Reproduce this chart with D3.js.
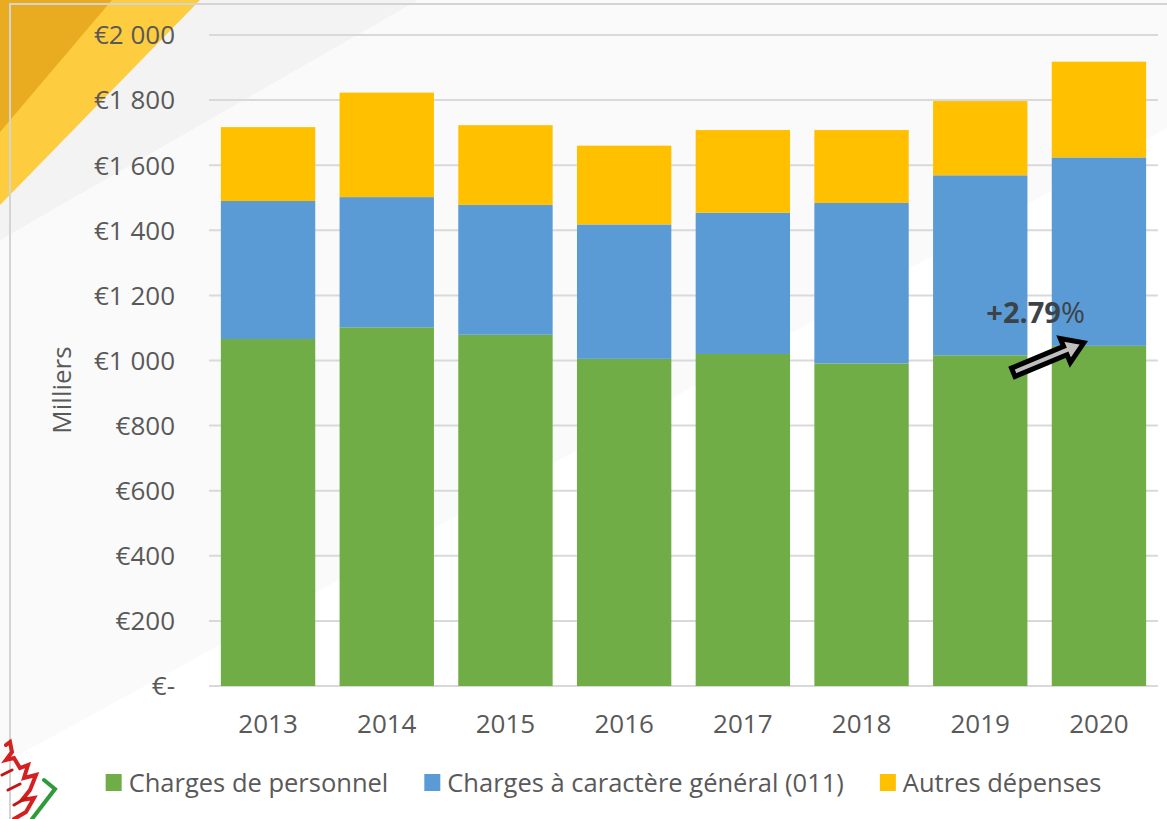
<!DOCTYPE html>
<html>
<head>
<meta charset="utf-8">
<script src="https://d3js.org/d3.v7.min.js"></script>
<style>
  body { margin: 0; background: #fff; }
  text { font-family: "Open Sans", sans-serif; }
</style>
</head>
<body>
<script>
// data (milliers d'euros)
var years = ["2013", "2014", "2015", "2016", "2017", "2018", "2019", "2020"];
var personnel = [1066, 1102, 1079, 1005, 1020, 991, 1016, 1045];
var general011 = [424, 400, 399, 413, 434, 493, 553, 579];
var autres = [227, 321, 245, 242, 254, 224, 228, 294];
var seriesNames = ["Charges de personnel", "Charges à caractère général (011)", "Autres dépenses"];
var colors = ["#70ad47", "#5b9bd5", "#ffc000"];
var yTicks = [0, 200, 400, 600, 800, 1000, 1200, 1400, 1600, 1800, 2000];

(function() {
  var W = 1167, H = 819;
  var svg = d3.select("body").append("svg").attr("width", W).attr("height", H);

  // slide background
  svg.append("rect").attr("width", W).attr("height", H).attr("fill", "#fafafa");
  svg.append("path").attr("d", "M1167,128 L1167,819 L0,819 L0,765 Z").attr("fill", "#ffffff");
  svg.append("path").attr("d", "M0,0 L418,0 L0,240 Z").attr("fill", "#f3f3f3");
  svg.append("path").attr("d", "M0,0 L200,0 L0,205 Z").attr("fill", "#fdcc3f");
  svg.append("path").attr("d", "M0,0 L112,0 L0,132 Z").attr("fill", "#e9ac20");

  // chart frame
  svg.append("path").attr("d", "M10,819 L10,4 L1167,4")
    .attr("fill", "none").attr("stroke", "#d4d4d4").attr("stroke-width", 2);

  var pl = 209, pr = 1158, pt = 35, pb = 686;
  var x = d3.scaleBand().domain(years).range([pl, pr]).paddingInner(0.205).paddingOuter(0.1);
  var y = d3.scaleLinear().domain([0, 2000]).range([pb, pt]);

  // grid
  svg.append("g").selectAll("line").data(yTicks).enter().append("line")
    .attr("x1", pl).attr("x2", pr)
    .attr("y1", function(d) { return y(d); }).attr("y2", function(d) { return y(d); })
    .attr("stroke", "#d9d9d9").attr("stroke-width", 2);

  // y tick labels
  function fmt(v) {
    if (v === 0) return "€-";
    var s = String(v);
    if (v >= 1000) s = s.slice(0, s.length - 3) + " " + s.slice(-3);
    return "€" + s;
  }
  svg.append("g").selectAll("text").data(yTicks).enter().append("text")
    .attr("x", 175).attr("y", function(d) { return y(d); })
    .attr("dy", "0.36em").attr("text-anchor", "end")
    .attr("fill", "#595959").style("font-size", "26px")
    .text(fmt);

  // y title
  svg.append("text").attr("transform", "translate(71,390) rotate(-90)")
    .attr("text-anchor", "middle").attr("fill", "#595959").style("font-size", "26px")
    .text("Milliers");

  // stacked bars
  var rows = years.map(function(yr, i) {
    return { year: yr, s0: personnel[i], s1: general011[i], s2: autres[i] };
  });
  var stack = d3.stack().keys(["s0", "s1", "s2"])(rows);
  svg.append("g").selectAll("g").data(stack).enter().append("g")
    .attr("fill", function(d, i) { return colors[i]; })
    .selectAll("rect").data(function(d) { return d; }).enter().append("rect")
    .attr("x", function(d) { return x(d.data.year); })
    .attr("width", x.bandwidth())
    .attr("y", function(d) { return y(d[1]); })
    .attr("height", function(d) { return y(d[0]) - y(d[1]); });

  // x labels
  svg.append("g").selectAll("text").data(years).enter().append("text")
    .attr("x", function(d) { return x(d) + x.bandwidth() / 2; })
    .attr("y", 733).attr("text-anchor", "middle")
    .attr("fill", "#595959").style("font-size", "26px")
    .text(function(d) { return d; });

  // annotation arrow 2019 -> 2020
  var i19 = years.indexOf("2019"), i20 = years.indexOf("2020");
  var ax0 = x("2019") + x.bandwidth() / 2 + 33, ay0 = y(personnel[i19]) + 17;
  var ax1 = x("2020") + 32, ay1 = y(personnel[i20]) - 3;
  var len = Math.hypot(ax1 - ax0, ay1 - ay0);
  var ang = Math.atan2(ay1 - ay0, ax1 - ax0) * 180 / Math.PI;
  var hl = 20, sw = 4.5, hw = 13;
  svg.append("path")
    .attr("transform", "translate(" + ax0 + "," + ay0 + ") rotate(" + ang + ")")
    .attr("d", "M0," + (-sw) + " L" + (len - hl) + "," + (-sw) + " L" + (len - hl) + "," + (-hw) +
      " L" + len + ",0 L" + (len - hl) + "," + hw + " L" + (len - hl) + "," + sw + " L0," + sw + " Z")
    .attr("fill", "#bfbfbf").attr("stroke", "#000").attr("stroke-width", 5)
    .attr("stroke-linejoin", "miter");

  var lbl = svg.append("text")
    .attr("x", (x("2019") + x("2020") + x.bandwidth()) / 2 - 4)
    .attr("y", y(personnel[i20]) - 23)
    .attr("text-anchor", "middle").attr("fill", "#3c4348").style("font-size", "29px");
  lbl.append("tspan").style("font-weight", "bold").text("+2.79");
  lbl.append("tspan").text("%");

  // legend
  var leg = svg.append("g");
  var lx = 0, gap = 36;
  seriesNames.forEach(function(name, i) {
    var g = leg.append("g").attr("transform", "translate(" + lx + ",0)");
    g.append("rect").attr("x", 0).attr("y", 774).attr("width", 16).attr("height", 17).attr("fill", colors[i]);
    var t = g.append("text").attr("x", 23).attr("y", 792)
      .attr("fill", "#595959").style("font-size", "25.5px").text(name);
    lx += 23 + t.node().getComputedTextLength() + gap;
  });
  var legW = lx - gap;
  leg.attr("transform", "translate(" + (603.5 - legW / 2) + ",0)");

  // logo fragment bottom-left
  var logo = svg.append("g").attr("fill", "none").attr("stroke-linecap", "round");
  logo.append("path").attr("d", "M6,745 L10,742 L12,752 L6,760 L14,758 L20,768 L28,765 L24,778 L36,775 L30,790 L22,800 L34,798 L26,812 L14,819")
    .attr("stroke", "#d42020").attr("stroke-width", 4);
  logo.append("path").attr("d", "M2,775 L12,770 M8,790 L20,784 M14,805 L26,798")
    .attr("stroke", "#c01818").attr("stroke-width", 3);
  logo.append("path").attr("d", "M44,780 L55,789 L32,819")
    .attr("stroke", "#2e9a3a").attr("stroke-width", 4);
})();
</script>
</body>
</html>
